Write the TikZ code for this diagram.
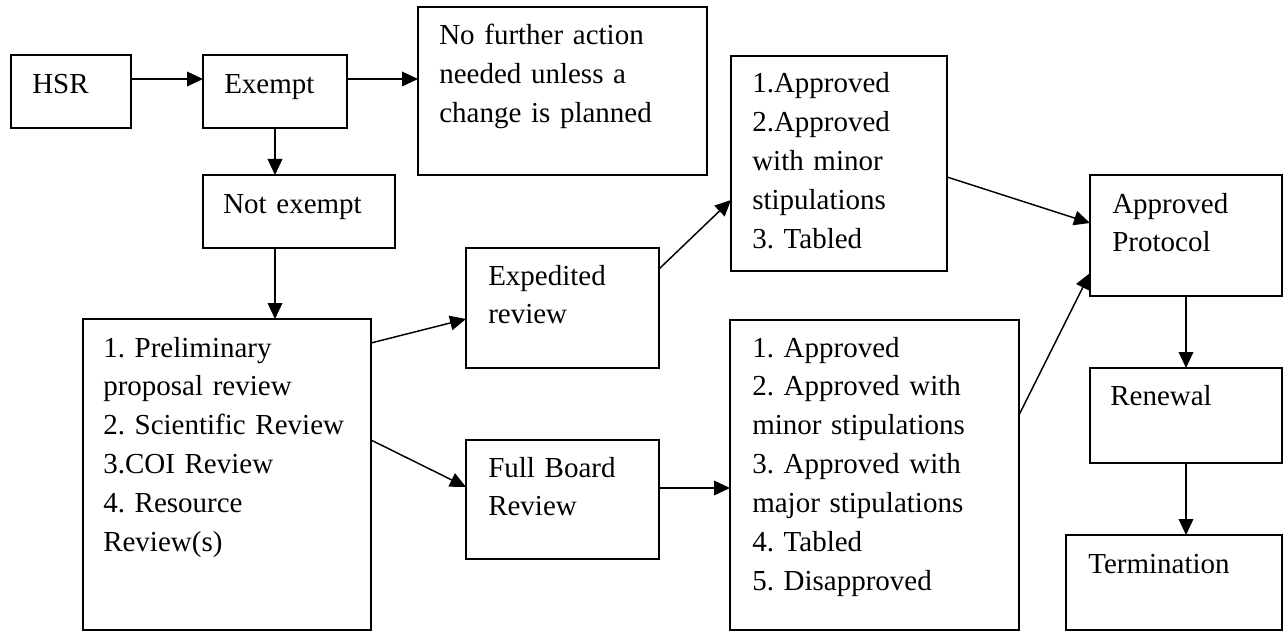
\documentclass[tikz,border=0pt]{standalone}
\usepackage{fontspec}
\setmainfont{Liberation Serif}
\usetikzlibrary{calc,arrows.meta}
\frenchspacing
\begin{document}
\begin{tikzpicture}[x=0.75pt,y=-0.75pt,
  box/.style={draw,line width=1.1pt,rectangle,inner sep=0pt,outer sep=0pt,anchor=north west},
  txt/.style={anchor=base west,inner sep=0pt,align=left,text width=250pt,font=\fontsize{21.75pt}{29.2pt}\selectfont},
  arr/.style={line width=1.1pt,-{Triangle[length=12pt,width=11pt]}}]
\useasboundingbox (0,0) rectangle (1284,631);
% boxes
\node[box,minimum width=90pt,minimum height=54.75pt] (hsr) at (11,55) {};
\node[box,minimum width=108pt,minimum height=54.75pt] (exempt) at (203,55) {};
\node[box,minimum width=216.75pt,minimum height=126pt] (nofurther) at (418,7) {};
\node[box,minimum width=144pt,minimum height=54.75pt] (notex) at (203,175) {};
\node[box,minimum width=216pt,minimum height=233.25pt] (prelim) at (83,319) {};
\node[box,minimum width=144.75pt,minimum height=90pt] (exped) at (466,248) {};
\node[box,minimum width=144.75pt,minimum height=89.25pt] (fullb) at (466,440) {};
\node[box,minimum width=162pt,minimum height=161.25pt] (boxa) at (731,56) {};
\node[box,minimum width=216.75pt,minimum height=232.5pt] (boxb) at (730,320) {};
\node[box,minimum width=144pt,minimum height=90.75pt] (ap) at (1090,175) {};
\node[box,minimum width=144pt,minimum height=71.25pt] (renewal) at (1090,368) {};
\node[box,minimum width=162pt,minimum height=71.25pt] (term) at (1066,535) {};
% texts
\node[txt] (thsr) at ($(hsr.north west)+(21,39)$) {HSR};
\node[txt] (texempt) at ($(exempt.north west)+(21,39)$) {Exempt};
\node[txt] (tnofurther) at ($(nofurther.north west)+(21,38)$) {No further action\\needed unless a\\change is planned};
\node[txt] (tnotex) at ($(notex.north west)+(20,38)$) {Not exempt};
\node[txt] (tprelim) at ($(prelim.north west)+(20,38)$) {1. Preliminary\\proposal review\\2. Scientific Review\\3.COI Review\\4. Resource\\Review(s)};
\node[txt] (texped) at ($(exped.north west)+(22,37)$) {Expedited\\review};
\node[txt] (tfullb) at ($(fullb.north west)+(22,37)$) {Full Board\\Review};
\node[txt] (tboxa) at ($(boxa.north west)+(21,37)$) {1.Approved\\2.Approved\\with minor\\stipulations\\3. Tabled};
\node[txt] (tboxb) at ($(boxb.north west)+(22,37)$) {1. Approved\\2. Approved with\\minor stipulations\\3. Approved with\\major stipulations\\4. Tabled\\5. Disapproved};
\node[txt] (tap) at ($(ap.north west)+(22,38)$) {Approved\\Protocol};
\node[txt] (trenewal) at ($(renewal.north west)+(20,37)$) {Renewal};
\node[txt] (tterm) at ($(term.north west)+(22,38)$) {Termination};
% connectors
\draw[arr] ($(hsr.north east)+(0,24)$) -- ($(exempt.north west)+(0,24)$);
\draw[arr] ($(exempt.north east)+(0,24)$) -- ($(nofurther.north west)+(0,72)$);
\draw[arr] (exempt.south) -- (exempt.south |- notex.north);
\draw[arr] (exempt.south |- notex.south) -- (exempt.south |- prelim.north);
\draw[arr] ($(prelim.north east)+(0,24)$) -- ($(exped.north west)+(0,71)$);
\draw[arr] ($(prelim.north east)+(0,121)$) -- ($(fullb.north west)+(0,47)$);
\draw[arr] ($(exped.north east)+(0,21)$) -- ($(boxa.north west)+(0,144)$);
\draw[arr] ($(boxa.north east)+(0,121)$) -- ($(ap.north west)+(0,48)$);
\draw[arr] ($(boxb.north east)+(0,95)$) -- ($(ap.north west)+(0,98)$);
\draw[arr] ($(fullb.north east)+(0,48)$) -- ($(boxb.north west)+(0,168)$);
\draw[arr] (ap.south) -- (ap.south |- renewal.north);
\draw[arr] (ap.south |- renewal.south) -- (ap.south |- term.north);
\end{tikzpicture}
\end{document}
